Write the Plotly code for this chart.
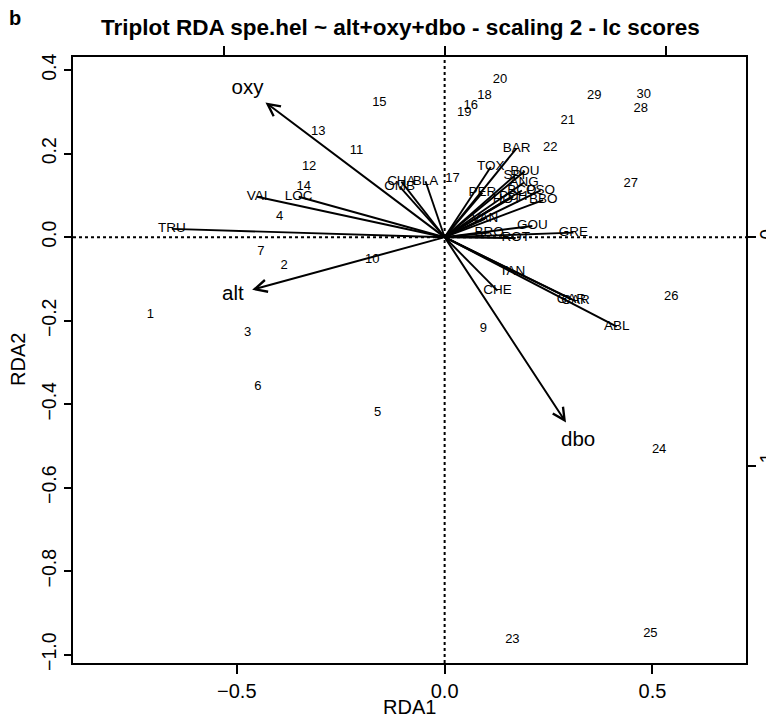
import plotly.graph_objects as go

# ---------------- data ----------------
site_ids = [1, 2, 3, 4, 5, 6, 7, 9, 10, 11, 12, 13, 14, 15, 16, 17, 18, 19, 20,
            21, 22, 23, 24, 25, 26, 27, 28, 29, 30]
site_x = [-0.708, -0.386, -0.474, -0.397, -0.161, -0.449, -0.442, 0.093, -0.174,
          -0.212, -0.326, -0.304, -0.339, -0.157, 0.063, 0.019, 0.096, 0.047, 0.133,
          0.296, 0.254, 0.163, 0.516, 0.495, 0.545, 0.448, 0.472, 0.360, 0.479]
site_y = [-0.186, -0.069, -0.228, 0.048, -0.420, -0.358, -0.036, -0.220, -0.054,
          0.207, 0.169, 0.253, 0.120, 0.322, 0.314, 0.139, 0.339, 0.298, 0.377,
          0.279, 0.215, -0.964, -0.508, -0.950, -0.142, 0.128, 0.308, 0.340, 0.342]

species = ["CHA", "TRU", "VAI", "LOC", "OMB", "BLA", "HOT", "TOX", "VAN", "CHE",
           "BAR", "SPI", "GOU", "BRO", "PER", "BOU", "PSO", "ROT", "CAR", "TAN",
           "BCO", "PCH", "GRE", "GAR", "BBO", "ABL", "ANG"]
sp_x = [-0.104, -0.656, -0.451, -0.351, -0.108, -0.046, 0.150, 0.111, 0.097, 0.127,
        0.173, 0.168, 0.211, 0.107, 0.091, 0.193, 0.231, 0.171, 0.315, 0.163,
        0.186, 0.165, 0.310, 0.305, 0.237, 0.414, 0.191]
sp_y = [0.133, 0.020, 0.097, 0.097, 0.121, 0.134, 0.090, 0.168, 0.044, -0.128,
        0.213, 0.147, 0.027, 0.011, 0.107, 0.158, 0.112, -0.002, -0.153, -0.082,
        0.112, 0.097, 0.011, -0.149, 0.089, -0.214, 0.131]

env = ["alt", "oxy", "dbo"]
env_x = [-0.463, -0.431, 0.292]
env_y = [-0.126, 0.323, -0.444]

x_ticks = [-0.5, 0.0, 0.5]
x_ticktext = ["\u22120.5", "0.0", "0.5"]
y_ticks = [-1.0, -0.8, -0.6, -0.4, -0.2, 0.0, 0.2, 0.4]
y_ticktext = ["\u22121.0", "\u22120.8", "\u22120.6", "\u22120.4", "\u22120.2", "0.0", "0.2", "0.4"]
top_ticks = [-1, 0, 1]
right_ticks = [-1, 0]
right_ticktext = ["\u22121", "0"]

# ---------------- style ----------------
FONT = "Liberation Sans, Arial, Helvetica, sans-serif"
xr = [-0.894, 0.725]
yr = [-1.020, 0.4317]
kx = 415.7 / 221.0   # biplot (top) axis scale factor
ky = 417.7 / 229.4   # biplot (right) axis scale factor
label_mult = 1.1

fig = go.Figure()

# species segments
lx, ly = [], []
for x, y in zip(sp_x, sp_y):
    lx += [0, x, None]
    ly += [0, y, None]
fig.add_trace(go.Scatter(x=lx, y=ly, mode="lines",
                         line=dict(color="black", width=1.9),
                         hoverinfo="skip", showlegend=False))

# site labels
fig.add_trace(go.Scatter(x=site_x, y=site_y, mode="text",
                         text=[str(s) for s in site_ids],
                         textfont=dict(family=FONT, size=13, color="black"),
                         showlegend=False))

# species labels
fig.add_trace(go.Scatter(x=sp_x, y=sp_y, mode="text", text=species,
                         textfont=dict(family=FONT, size=13.5, color="black"),
                         showlegend=False))

# env labels
fig.add_trace(go.Scatter(x=[v * label_mult for v in env_x],
                         y=[v * label_mult for v in env_y],
                         mode="text", text=env,
                         textfont=dict(family=FONT, size=20.5, color="black"),
                         showlegend=False))

# dummy trace for the biplot axes
fig.add_trace(go.Scatter(x=[0], y=[0], xaxis="x2", yaxis="y2", mode="markers",
                         marker=dict(opacity=0), hoverinfo="skip", showlegend=False))

annotations = []
for x, y in zip(env_x, env_y):
    annotations.append(dict(x=x, y=y, ax=0, ay=0, xref="x", yref="y",
                            axref="x", ayref="y", showarrow=True, text="",
                            arrowhead=5, arrowsize=1.2, arrowwidth=2,
                            arrowcolor="black"))
annotations.append(dict(text="<b>Triplot RDA spe.hel ~ alt+oxy+dbo - scaling 2 - lc scores</b>",
                        xref="paper", yref="paper", x=0.5, y=1, yshift=30, xshift=-9,
                        xanchor="center", yanchor="middle", showarrow=False,
                        font=dict(family=FONT, size=22.5, color="black")))
annotations.append(dict(text="<b>b</b>", xref="paper", yref="paper", x=0, y=1,
                        xshift=-58, yshift=39, xanchor="center", yanchor="middle",
                        showarrow=False, font=dict(family=FONT, size=20, color="black")))
annotations.append(dict(text="RDA1", xref="paper", yref="paper", x=0.5, y=0,
                        yshift=-44, xanchor="center", yanchor="middle", showarrow=False,
                        font=dict(family=FONT, size=20, color="black")))
annotations.append(dict(text="RDA2", xref="paper", yref="paper", x=0, y=0.5,
                        xshift=-55, textangle=-90, xanchor="center", yanchor="middle",
                        showarrow=False, font=dict(family=FONT, size=20, color="black")))

shapes = [
    dict(type="line", xref="x", yref="paper", x0=0, x1=0, y0=0, y1=1,
         line=dict(color="black", width=2, dash="dot")),
    dict(type="line", xref="paper", yref="y", x0=0, x1=1, y0=0, y1=0,
         line=dict(color="black", width=2, dash="dot")),
]

# the page adds an 8px body margin, so the figure is 766x716
fig.update_layout(
    template="none",
    width=766, height=716, autosize=False,
    margin=dict(l=65, r=28.3, t=49, b=60.7, pad=0),
    paper_bgcolor="white", plot_bgcolor="white",
    font=dict(family=FONT, color="black"),
    showlegend=False,
    annotations=annotations,
    shapes=shapes,
    xaxis=dict(range=xr, tickvals=x_ticks, ticktext=x_ticktext, automargin=False,
               ticks="outside", ticklen=9, tickwidth=2, tickcolor="black",
               showline=True, linewidth=2, linecolor="black", mirror=True,
               showgrid=False, zeroline=False,
               tickfont=dict(family=FONT, size=20, color="black")),
    yaxis=dict(range=yr, tickvals=y_ticks, ticktext=y_ticktext, tickangle=-90,
               automargin=False,
               ticks="outside", ticklen=7, tickwidth=2, tickcolor="black",
               showline=True, linewidth=2, linecolor="black", mirror=True,
               showgrid=False, zeroline=False,
               tickfont=dict(family=FONT, size=19.5, color="black")),
    xaxis2=dict(overlaying="x", side="top", range=[v * kx for v in xr],
                automargin=False,
                tickvals=top_ticks, showticklabels=False, ticks="outside",
                ticklen=10, tickwidth=2, tickcolor="black",
                showgrid=False, zeroline=False, showline=False),
    yaxis2=dict(overlaying="y", side="right", range=[v * ky for v in yr],
                automargin=False,
                tickvals=right_ticks, ticktext=right_ticktext, tickangle=-90,
                ticks="outside", ticklen=9, tickwidth=2, tickcolor="black",
                ticklabelstandoff=-5,
                showgrid=False, zeroline=False, showline=False,
                tickfont=dict(family=FONT, size=19.5, color="black")),
)

fig.write_html("out.html")
